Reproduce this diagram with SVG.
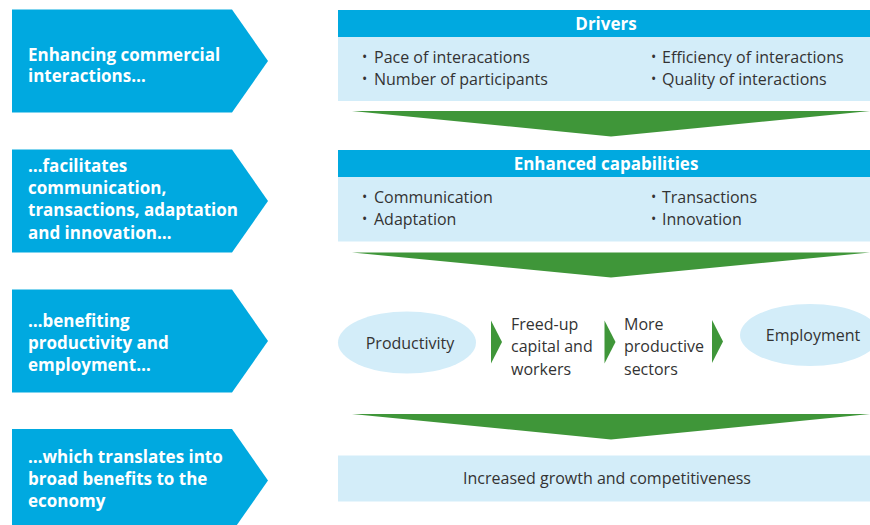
<svg xmlns="http://www.w3.org/2000/svg" width="870" height="525" viewBox="0 0 870 525">
<defs>
<style>
.stage{fill:#00a9e0}
.stxt{font-family:"Open Sans","Liberation Sans",sans-serif;font-weight:bold;font-size:17px;fill:#ffffff}
.hdr{fill:#00a9e0}
.body{fill:#d3edf9}
.htxt{font-family:"Open Sans","Liberation Sans",sans-serif;font-weight:bold;font-size:17px;fill:#ffffff;text-anchor:middle}
.btxt{font-family:"Open Sans","Liberation Sans",sans-serif;font-size:16px;fill:#333333}
.bul{font-family:"Open Sans","Liberation Sans",sans-serif;font-size:14px;fill:#333333}
.mid{text-anchor:middle}
.green{fill:#3f9639}
</style>
</defs>
<rect width="870" height="525" fill="#ffffff"/>

<g id="stage1">
<polygon class="stage" points="12,9.5 232,9.5 268,61 232,112.5 12,112.5"/>
<text class="stxt" x="28" y="60.5">Enhancing commercial</text>
<text class="stxt" x="28" y="82">interactions…</text>
</g>
<g id="stage2">
<polygon class="stage" points="12,149.5 232,149.5 268,201 232,252.5 12,252.5"/>
<text class="stxt" x="28" y="172">…facilitates</text>
<text class="stxt" x="28" y="194">communication,</text>
<text class="stxt" x="28" y="216">transactions, adaptation</text>
<text class="stxt" x="28" y="238.5">and innovation…</text>
</g>
<g id="stage3">
<polygon class="stage" points="12,289.5 232,289.5 268,341 232,392.5 12,392.5"/>
<text class="stxt" x="28" y="327">…benefiting</text>
<text class="stxt" x="28" y="349">productivity and</text>
<text class="stxt" x="28" y="371">employment…</text>
</g>
<g id="stage4">
<polygon class="stage" points="12,429 232,429 268,480.5 232,532 12,532"/>
<text class="stxt" x="28" y="463">…which translates into</text>
<text class="stxt" x="28" y="485">broad benefits to the</text>
<text class="stxt" x="28" y="507">economy</text>
</g>

<g id="drivers">
<rect class="body" x="338" y="10" width="532" height="91"/>
<rect class="hdr" x="338" y="10" width="532" height="27"/>
<text class="htxt" x="606" y="29.5">Drivers</text>
<text class="bul" x="362" y="62">•</text>
<text class="btxt" x="374" y="63">Pace of interacations</text>
<text class="bul" x="362" y="84">•</text>
<text class="btxt" x="374" y="85">Number of participants</text>
<text class="bul" x="651" y="62">•</text>
<text class="btxt" x="662" y="63">Efficiency of interactions</text>
<text class="bul" x="651" y="84">•</text>
<text class="btxt" x="662" y="85">Quality of interactions</text>
</g>

<g id="capabilities">
<rect class="body" x="338" y="150" width="532" height="91.5"/>
<rect class="hdr" x="338" y="150" width="532" height="27"/>
<text class="htxt" x="606" y="169.5">Enhanced capabilities</text>
<text class="bul" x="362" y="202">•</text>
<text class="btxt" x="374" y="203">Communication</text>
<text class="bul" x="362" y="224">•</text>
<text class="btxt" x="374" y="225">Adaptation</text>
<text class="bul" x="651" y="202">•</text>
<text class="btxt" x="662" y="203">Transactions</text>
<text class="bul" x="651" y="224">•</text>
<text class="btxt" x="662" y="225">Innovation</text>
</g>

<g id="productivity">
<ellipse class="body" cx="407" cy="342.5" rx="69" ry="31"/>
<text class="btxt mid" x="410" y="348.5">Productivity</text>
</g>
<g id="freed">
<text class="btxt" x="511" y="329.5">Freed-up</text>
<text class="btxt" x="511" y="352">capital and</text>
<text class="btxt" x="511" y="374.5">workers</text>
</g>
<g id="sectors">
<text class="btxt" x="624" y="329.5">More</text>
<text class="btxt" x="624" y="352">productive</text>
<text class="btxt" x="624" y="374.5">sectors</text>
</g>
<g id="employment">
<ellipse class="body" cx="810" cy="335" rx="70" ry="31"/>
<text class="btxt mid" x="813" y="341">Employment</text>
</g>

<g id="growth">
<rect class="body" x="338" y="455.5" width="532" height="46"/>
<text class="btxt mid" x="607" y="484">Increased growth and competitiveness</text>
</g>

<g id="connectors">
<polygon class="green" points="352,111 870,111 611,136.5"/>
<polygon class="green" points="352,252.5 870,252.5 611,277.5"/>
<polygon class="green" points="352,414 870,414 611,439.5"/>
<polygon class="green" points="491,320.5 502,342 491,363.5"/>
<polygon class="green" points="604.5,320.5 615.5,342 604.5,363.5"/>
<polygon class="green" points="712,320 723,341.5 712,363"/>
</g>
</svg>
